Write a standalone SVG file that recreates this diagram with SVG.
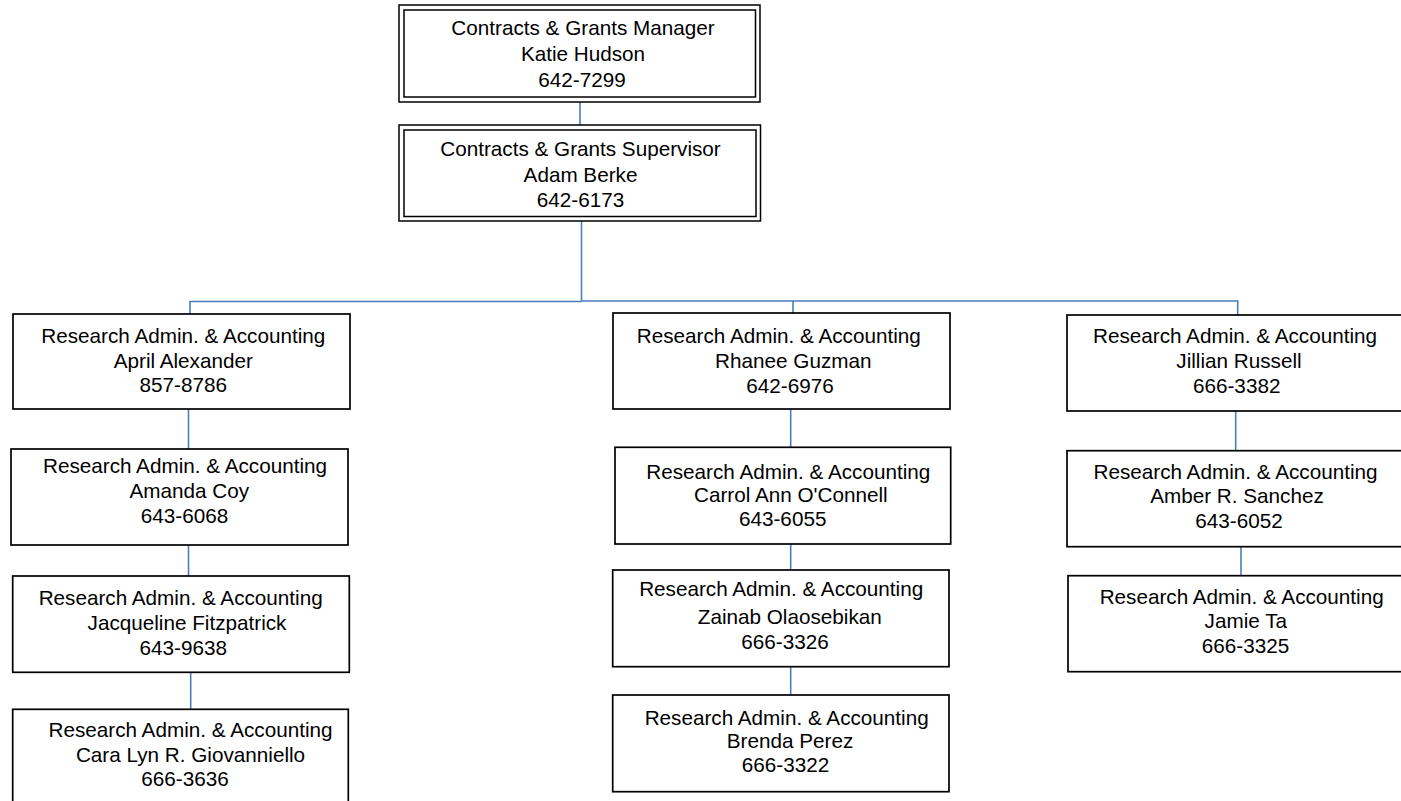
<svg xmlns="http://www.w3.org/2000/svg" width="1401" height="801" viewBox="0 0 1401 801">
<style>
.box{fill:#fff;stroke:#000;stroke-width:1.7}
.dbl{fill:none;stroke:#000;stroke-width:1.5}
.ln{fill:none;stroke:#4a7ebb;stroke-width:1.6}
text{font-family:"Liberation Sans",Arial,sans-serif;font-size:20.7px;fill:#000;text-anchor:middle}
</style>
<rect width="1401" height="801" fill="#fff"/>
<g id="connectors">
<line class="ln" x1="580" y1="102" x2="580" y2="125"/>
<line class="ln" x1="581.5" y1="221" x2="581.5" y2="301.5"/>
<polyline class="ln" points="190,314 190,301.5 581.5,301.5"/>
<polyline class="ln" points="581.5,301 1237.7,301 1237.7,315"/>
<line class="ln" x1="793" y1="301" x2="793" y2="313"/>
<line class="ln" x1="188.5" y1="409" x2="188.5" y2="449"/>
<line class="ln" x1="188.5" y1="545" x2="188.5" y2="576"/>
<line class="ln" x1="190.7" y1="672" x2="190.7" y2="709"/>
<line class="ln" x1="790.7" y1="409" x2="790.7" y2="447"/>
<line class="ln" x1="790.7" y1="544" x2="790.7" y2="570"/>
<line class="ln" x1="790.7" y1="667" x2="790.7" y2="695"/>
<line class="ln" x1="1235.7" y1="411" x2="1235.7" y2="451"/>
<line class="ln" x1="1241" y1="547" x2="1241" y2="576"/>
</g>
<g id="manager">
<rect class="dbl" x="399" y="5" width="361" height="97"/>
<rect class="dbl" x="404" y="10" width="351.5" height="87"/>
<text x="583" y="35">Contracts &amp; Grants Manager</text>
<text x="583" y="61">Katie Hudson</text>
<text x="582" y="86.5">642-7299</text>
</g>
<g id="supervisor">
<rect class="dbl" x="399" y="125" width="361.5" height="96"/>
<rect class="dbl" x="404" y="130" width="352" height="86.5"/>
<text x="580.5" y="156">Contracts &amp; Grants Supervisor</text>
<text x="580.5" y="181.5">Adam Berke</text>
<text x="580.5" y="206.5">642-6173</text>
</g>
<g id="april">
<rect class="box" x="13" y="314" width="337" height="95"/>
<text x="183.3" y="343">Research Admin. &amp; Accounting</text>
<text x="183.3" y="367.5">April Alexander</text>
<text x="183.3" y="392">857-8786</text>
</g>
<g id="amanda">
<rect class="box" x="11" y="449" width="337" height="96"/>
<text x="185" y="473.3">Research Admin. &amp; Accounting</text>
<text x="189.3" y="498">Amanda Coy</text>
<text x="184.5" y="523">643-6068</text>
</g>
<g id="jacqueline">
<rect class="box" x="12.7" y="576" width="336.6" height="96.3"/>
<text x="180.7" y="605">Research Admin. &amp; Accounting</text>
<text x="187" y="629.5">Jacqueline Fitzpatrick</text>
<text x="183.3" y="655">643-9638</text>
</g>
<g id="cara">
<rect class="box" x="12.7" y="709.3" width="335.6" height="100"/>
<text x="190.5" y="736.7">Research Admin. &amp; Accounting</text>
<text x="190.5" y="761.7">Cara Lyn R. Giovanniello</text>
<text x="185" y="786">666-3636</text>
</g>
<g id="rhanee">
<rect class="box" x="613" y="313" width="337" height="96"/>
<text x="778.8" y="343">Research Admin. &amp; Accounting</text>
<text x="793.3" y="368">Rhanee Guzman</text>
<text x="790" y="393">642-6976</text>
</g>
<g id="carrol">
<rect class="box" x="615" y="447.3" width="335.7" height="96.7"/>
<text x="788.3" y="479">Research Admin. &amp; Accounting</text>
<text x="790.8" y="501.7">Carrol Ann O'Connell</text>
<text x="782.7" y="526">643-6055</text>
</g>
<g id="zainab">
<rect class="box" x="612.7" y="570" width="336.3" height="96.7"/>
<text x="781.2" y="596">Research Admin. &amp; Accounting</text>
<text x="789.8" y="624">Zainab Olaosebikan</text>
<text x="785" y="649">666-3326</text>
</g>
<g id="brenda">
<rect class="box" x="612.7" y="695" width="336.3" height="96.7"/>
<text x="786.7" y="725">Research Admin. &amp; Accounting</text>
<text x="790" y="748">Brenda Perez</text>
<text x="785.5" y="772">666-3322</text>
</g>
<g id="jillian">
<rect class="box" x="1067" y="315" width="340" height="96"/>
<text x="1235" y="343">Research Admin. &amp; Accounting</text>
<text x="1239" y="368">Jillian Russell</text>
<text x="1236.7" y="393">666-3382</text>
</g>
<g id="amber">
<rect class="box" x="1067" y="450.7" width="340" height="96"/>
<text x="1235.5" y="479">Research Admin. &amp; Accounting</text>
<text x="1237" y="503">Amber R. Sanchez</text>
<text x="1239" y="528">643-6052</text>
</g>
<g id="jamie">
<rect class="box" x="1068" y="575.7" width="340" height="96"/>
<text x="1241.7" y="604">Research Admin. &amp; Accounting</text>
<text x="1245.8" y="628">Jamie Ta</text>
<text x="1245.5" y="653">666-3325</text>
</g>
</svg>
